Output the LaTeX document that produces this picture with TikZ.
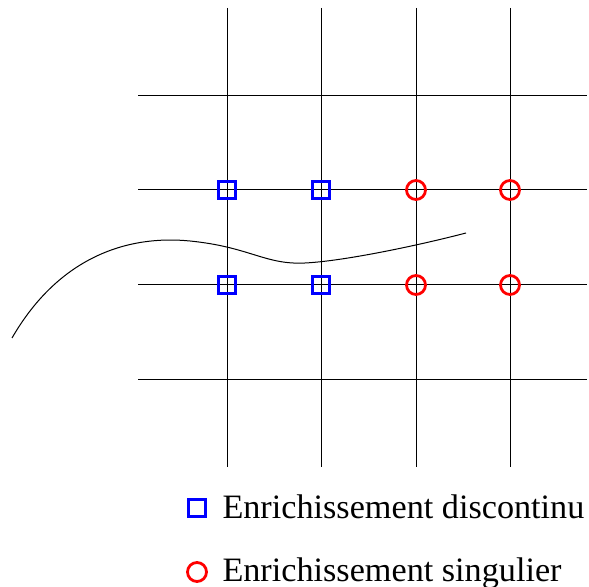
\documentclass[tikz,border=0pt]{standalone}
\usepackage{fontspec}
\setmainfont{Liberation Serif}
\usetikzlibrary{positioning}

\begin{document}
\begin{tikzpicture}[
  x=0.5pt, y=-0.5pt, line width=.5pt,
  sq/.style={draw=blue,line width=1.4pt,minimum size=8.5pt,inner sep=0pt},
  rond/.style={circle,draw=red,line width=1.4pt,minimum size=9.5pt,inner sep=0pt},
  lab/.style={font=\fontsize{17.1}{20}\selectfont,anchor=base west,inner sep=0pt}
]
  \useasboundingbox (0,0) rectangle (589,587);
  % grille
  \foreach \x in {227,321,416,510} \draw (\x,8) -- (\x,467);
  \foreach \y in {96,190,285,380} \draw (138,\y) -- (587,\y);
  % fissure
  \draw (12,338) .. controls (60,255) and (130,235) .. (190,241)
        .. controls (250,247) and (265,265) .. (305,263)
        .. controls (345,261) and (420,245) .. (466,233);
  % noeuds enrichis
  \foreach \x/\i in {227/1,321/2} {
    \node[sq] (d\i a) at (\x,190) {};
    \node[sq] (d\i b) at (\x,285) {};
  }
  \foreach \x/\i in {416/1,510/2} {
    \node[rond] (s\i a) at (\x,190) {};
    \node[rond] (s\i b) at (\x,285) {};
  }
  % legende
  \node[sq] (legd) at (197,508) {};
  \node[rond] (legs) at (197,572) {};
  \node[lab] (txtd) at (222,518) {Enrichissement discontinu};
  \node[lab] (txts) at (222,581) {Enrichissement singulier};
\end{tikzpicture}
\end{document}
